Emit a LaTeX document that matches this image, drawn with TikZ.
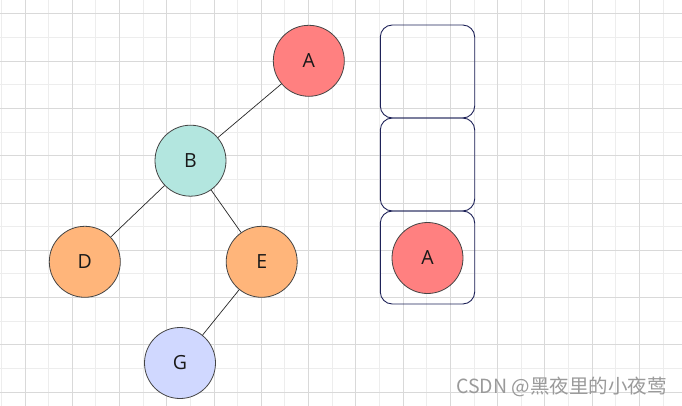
\documentclass[tikz,border=0pt]{standalone}
\usepackage{fontspec}
\setmainfont{Open Sans}
\newfontfamily\cjkfont{Noto Sans CJK SC}
\definecolor{gridlight}{HTML}{EDEDED}
\definecolor{griddark}{HTML}{D9D9D9}
\definecolor{nodeA}{HTML}{FF8080}
\definecolor{nodeB}{HTML}{B3E6DF}
\definecolor{nodeDE}{HTML}{FFB57A}
\definecolor{nodeG}{HTML}{D0D8FF}
\definecolor{stackline}{HTML}{1E2258}
\definecolor{circline}{HTML}{444444}
\definecolor{wmark}{HTML}{9A9A9A}
\begin{document}
\begin{tikzpicture}[x=1pt,y=-1pt,
  treenode/.style={circle,draw=circline,line width=0.8pt,minimum size=71pt,inner sep=0pt,
    font=\fontsize{19.5}{22}\selectfont,text=black!90},
  stackbox/.style={draw=stackline,line width=0.9pt,rounded corners=12pt,minimum width=94.4pt,
    minimum height=93pt,inner sep=0pt},
  edge/.style={draw=black!85,line width=0.7pt}]
\useasboundingbox (0,0) rectangle (682,406);
\fill[white] (0,0) rectangle (682,406);
% grid
\foreach \j in {0,...,14} \draw[gridlight,line width=1pt] ({1.4+47.26*\j},0) -- ({1.4+47.26*\j},406);
\foreach \j in {0,...,7} \draw[gridlight,line width=1pt] (0,{37.63+47.26*\j}) -- (682,{37.63+47.26*\j});
\foreach \j in {0,...,13} \draw[griddark,line width=1pt] ({25.03+47.26*\j},0) -- ({25.03+47.26*\j},406);
\foreach \j in {0,...,8} \draw[griddark,line width=1pt] (0,{14+47.26*\j}) -- (682,{14+47.26*\j});
% tree
\node[treenode,fill=nodeA] (A) at (308.8,60.8) {A};
\node[treenode,fill=nodeB] (B) at (190.5,160.7) {B};
\node[treenode,fill=nodeDE] (D) at (84.8,261.8) {D};
\node[treenode,fill=nodeDE] (E) at (261.7,261.8) {E};
\node[treenode,fill=nodeG] (G) at (180,363) {G};
\draw[edge] (A) -- (B);
\draw[edge] (B) -- (D);
\draw[edge] (B) -- (E);
\draw[edge] (E) -- (G);
% stack
\node[stackbox] (s1) at (427.5,71.5) {};
\node[stackbox] (s2) at (427.5,164.5) {};
\node[stackbox] (s3) at (427.5,257.5) {};
\node[treenode,fill=nodeA] (A2) at (427.5,258) {A};
% watermark
\node[anchor=east,inner sep=0pt,text=wmark,font=\cjkfont\fontsize{19.5}{21}\selectfont] (wm) at (667,387) {CSDN @黑夜里的小夜莺};
\end{tikzpicture}
\end{document}
